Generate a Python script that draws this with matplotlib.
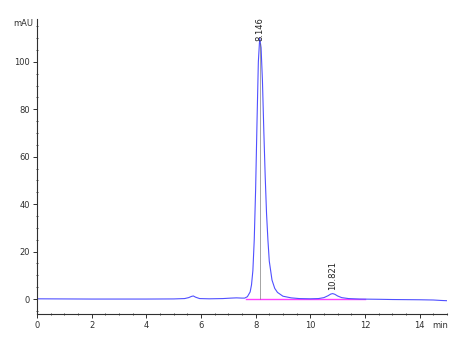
import numpy as np
import matplotlib.pyplot as plt
from matplotlib.ticker import MultipleLocator

# chromatogram trace (min, mAU)
time_min = [0.0, 1.0, 2.0, 3.0, 4.0, 5.0, 5.4, 5.55, 5.65, 5.72, 5.8, 5.95, 6.3,
            6.8, 7.1, 7.3, 7.5, 7.6, 7.7, 7.8, 7.85, 7.9, 7.95, 8.0, 8.05, 8.1,
            8.15, 8.2, 8.25, 8.3, 8.35, 8.4, 8.45, 8.5, 8.6, 8.7, 8.8, 9.0, 9.3,
            9.6, 10.0, 10.3, 10.5, 10.65, 10.75, 10.82, 10.9, 11.0, 11.15, 11.4,
            11.8, 12.5, 13.0, 14.0, 14.5, 14.8, 15.0]
signal_mau = [0.1, 0.05, 0.0, 0.0, 0.0, 0.05, 0.2, 0.6, 1.1, 1.3, 0.8, 0.2, 0.1,
              0.2, 0.4, 0.5, 0.4, 0.4, 1.0, 3.0, 6.0, 12.0, 25.0, 46.0, 74.0, 100.0,
              110.0, 106.0, 92.0, 71.0, 52.0, 36.0, 25.0, 16.0, 8.0, 4.5, 2.8, 1.2, 0.5,
              0.2, 0.1, 0.2, 0.6, 1.4, 2.1, 2.3, 2.0, 1.3, 0.6, 0.2,
              0.0, -0.1, -0.2, -0.3, -0.4, -0.6, -0.7]

# integration baseline
base_t = [7.65, 12.0]
base_y = [0.0, 0.0]

peak_rt = [8.146, 10.821]
peak_h = [110.0, 2.3]
peak_labels = ['8.146', '10.821']

fig = plt.figure(figsize=(4.66, 3.42), dpi=100)
ax = fig.add_axes([0.0794, 0.0819, 0.8796, 0.862])

ax.plot(base_t, base_y, color='#ff40ff', lw=1.0, zorder=1)
ax.plot(time_min, signal_mau, color='#5050ff', lw=0.8, zorder=2)
ax.vlines(peak_rt[0], 0, peak_h[0] - 2, color='#606060', lw=0.4, zorder=3)

label_gap = [-1.0, 1.5]
for rt, h, lab, g in zip(peak_rt, peak_h, peak_labels, label_gap):
    ax.text(rt, h + g, lab, rotation=90, ha='center', va='bottom',
            fontsize=6, color='#202020')

ax.set_xlim(0, 15)
ax.set_ylim(-6.3, 118)
ax.xaxis.set_major_locator(MultipleLocator(2))
ax.xaxis.set_minor_locator(MultipleLocator(0.5))
ax.yaxis.set_major_locator(MultipleLocator(20))
ax.yaxis.set_minor_locator(MultipleLocator(5))

for s in ['top', 'right']:
    ax.spines[s].set_visible(False)
for s in ['left', 'bottom']:
    ax.spines[s].set_linewidth(0.8)
    ax.spines[s].set_color('#303030')

ax.tick_params(which='major', length=3, width=0.7, labelsize=6,
               colors='#303030', pad=2)
ax.tick_params(which='minor', length=2, width=0.6, direction='inout',
               colors='#303030')

fig.text(33 / 466, 1 - 24 / 342, 'mAU', ha='right', va='center',
         fontsize=6, color='#303030')
fig.text(440 / 466, 1 - 326 / 342, 'min', ha='center', va='center',
         fontsize=6, color='#303030')

fig.savefig('out.png', dpi=100)
